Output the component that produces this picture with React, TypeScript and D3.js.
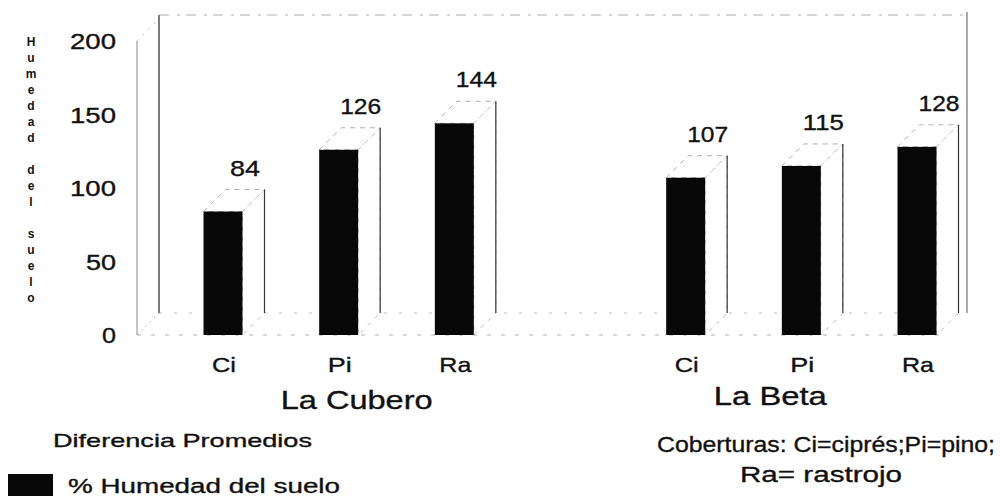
import React from 'react';
import * as d3 from 'd3';

// data
const sites = ['La Cubero', 'La Beta'];
const covers = ['Ci', 'Pi', 'Ra'];
const laCubero = [84, 126, 144];
const laBeta = [107, 115, 128];
const yTicks = [0, 50, 100, 150, 200];
const yTitle = 'Humedad del suelo';

const W = 1000;
const H = 496;
const depth = 22;
const barW = 39;
const font = '"Liberation Sans", Arial, sans-serif';

// 7 slots: 3 bars, an empty gap, 3 bars
const slots = ['LC-Ci', 'LC-Pi', 'LC-Ra', 'gap', 'LB-Ci', 'LB-Pi', 'LB-Ra'];

const bars = [
  ...laCubero.map((v, i) => ({ key: 'LC-' + covers[i], cover: covers[i], value: v })),
  ...laBeta.map((v, i) => ({ key: 'LB-' + covers[i], cover: covers[i], value: v })),
];

const T = ({ x, y, text, size, len, anchor = 'start' }: any) => (
  <text
    x={x}
    y={y}
    fontSize={size}
    fontFamily={font}
    textAnchor={anchor}
    textLength={len}
    lengthAdjust="spacingAndGlyphs"
    fill="#111"
    stroke="#111"
    strokeWidth={0.35}
  >
    {text}
  </text>
);

export default function App() {
  const x = d3.scalePoint<string>().domain(slots).range([223, 917]);
  const y = d3.scaleLinear().domain([0, 200]).range([335, 41]);
  const y0 = y(0);

  const floorL = 137;
  const floorR = 945;
  const top = 15;

  const digitW = (s: string) => s.length * 16 - 2;

  return (
    <svg width={W} height={H} style={{ position: 'absolute', left: 0, top: 0, background: '#fff' }}>
      {/* 3d walls and floor */}
      <g fill="none">
        <line x1={floorL} y1={y0} x2={floorL} y2={y(200)} stroke="#888" strokeWidth={1} />
        <line x1={floorL} y1={y(200)} x2={floorL + depth} y2={y(200) - depth} stroke="#aaa" strokeWidth={0.8} strokeDasharray="2 6" />
        <line x1={floorL + depth} y1={y0 - depth} x2={floorL + depth} y2={top} stroke="#333" strokeWidth={1.3} />
        <line x1={floorL + depth} y1={top} x2={floorR + depth} y2={top} stroke="#999" strokeWidth={0.8} strokeDasharray="10 8 3 6" />
        <line x1={floorR + depth} y1={top - 3} x2={floorR + depth} y2={y0 - depth} stroke="#555" strokeWidth={1} />
        <line x1={floorL + depth} y1={y0 - depth} x2={floorR + depth} y2={y0 - depth} stroke="#aaa" strokeWidth={0.8} strokeDasharray="3 12" />
        <line x1={floorL} y1={y0} x2={floorR} y2={y0} stroke="#999" strokeWidth={0.8} strokeDasharray="4 10" />
        <line x1={floorL} y1={y0} x2={floorL + depth} y2={y0 - depth} stroke="#aaa" strokeWidth={0.8} strokeDasharray="2 4" />
      </g>

      {/* bars */}
      {bars.map(b => {
        const cx = x(b.key) as number;
        const x0 = cx - barW / 2;
        const x1 = cx + barW / 2;
        const yt = y(b.value);
        return (
          <g key={b.key}>
            <polygon
              points={`${x0},${yt} ${x0 + depth},${yt - depth} ${x1 + depth},${yt - depth} ${x1},${yt}`}
              fill="#fff"
              stroke="#999"
              strokeWidth={0.8}
              strokeDasharray="5 5"
            />
            <polygon
              points={`${x1},${yt} ${x1 + depth},${yt - depth} ${x1 + depth},${y0 - depth} ${x1},${y0}`}
              fill="#fff"
              stroke="#aaa"
              strokeWidth={0.8}
              strokeDasharray="4 6"
            />
            <line x1={x1 + depth} y1={yt - depth} x2={x1 + depth} y2={y0 - depth} stroke="#333" strokeWidth={1.2} />
            <rect x={x0} y={yt} width={barW} height={y0 - yt} fill="#080808" />
            <T x={cx + depth} y={yt - depth - 14} text={String(b.value)} size={22} len={b.value < 100 ? 30 : 41} anchor="middle" />
            <T x={cx + 1} y={372} text={b.cover} size={21} len={b.cover === 'Ra' ? 32 : 24} anchor="middle" />
          </g>
        );
      })}

      {/* y ticks */}
      {yTicks.map(t => (
        <T key={t} x={116} y={y(t) + 8} text={String(t)} size={22} len={digitW(String(t))} anchor="end" />
      ))}

      {/* y title, one letter under the other */}
      <g fontFamily={font} fontSize={12} fontWeight="bold" fill="#111" textAnchor="middle">
        {yTitle.split('').map((c, i) => (
          <text key={i} x={31} y={46 + i * 16}>
            {c}
          </text>
        ))}
      </g>

      {/* group labels */}
      <T x={(x('LC-Pi') as number) + 18} y={409} text={sites[0]} size={25} len={152} anchor="middle" />
      <T x={(x('LB-Pi') as number) - 31} y={405} text={sites[1]} size={25} len={113} anchor="middle" />

      <T x={53} y={447} text="Diferencia Promedios" size={19} len={259} />

      {/* legend */}
      <rect x={8} y={474} width={45} height={22} fill="#080808" />
      <T x={68} y={493} text="% Humedad del suelo" size={20} len={272} />

      <T x={826} y={452} text="Coberturas: Ci=ciprés;Pi=pino;" size={22} len={338} anchor="middle" />
      <T x={821} y={482} text="Ra= rastrojo" size={22} len={162} anchor="middle" />
    </svg>
  );
}
